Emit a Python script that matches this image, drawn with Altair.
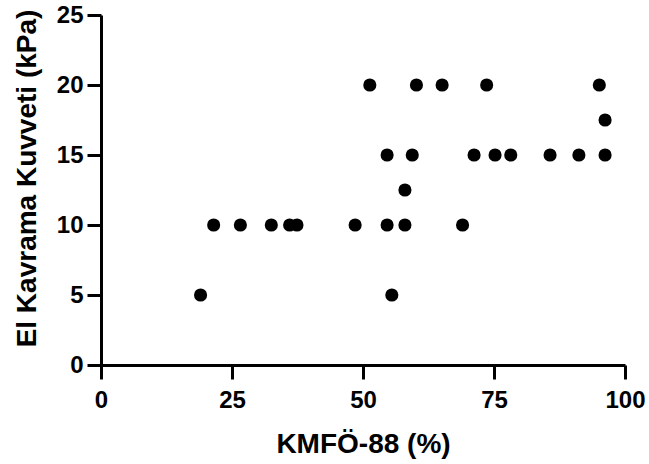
import altair as alt
import pandas as pd

# KMFÖ-88 (%) values and hand-grip strength (kPa)
kmfo = [51.3, 60.2, 65.1, 73.6, 95.1,
        96.2,
        54.6, 59.4, 71.2, 75.2, 78.2, 85.7, 91.2, 96.2,
        58.0,
        21.5, 26.6, 32.5, 36.0, 37.4, 48.5, 54.6, 58.0, 69.0,
        19.0, 55.5]
grip = [20, 20, 20, 20, 20,
        17.5,
        15, 15, 15, 15, 15, 15, 15, 15,
        12.5,
        10, 10, 10, 10, 10, 10, 10, 10, 10,
        5, 5]

x_ticks = [0, 25, 50, 75, 100]
y_ticks = [0, 5, 10, 15, 20, 25]

df = pd.DataFrame({"x": kmfo, "y": grip})

FONT = "Liberation Sans"

chart = alt.Chart(df).mark_circle(size=172, color="black", opacity=1).encode(
    x=alt.X("x:Q",
            scale=alt.Scale(domain=[0, 100], nice=False, zero=False),
            axis=alt.Axis(values=x_ticks, title="KMFÖ-88 (%)", grid=False,
                          labelPadding=9, titleY=87, titleBaseline="alphabetic")),
    y=alt.Y("y:Q",
            scale=alt.Scale(domain=[0, 25], nice=False, zero=False),
            axis=alt.Axis(values=y_ticks, title="El Kavrama Kuvveti (kPa)", grid=False,
                          labelPadding=4, titleX=-74, titleY=163, titleAngle=-90,
                          titleAlign="center", titleBaseline="middle")),
).properties(
    width=524,
    height=350,
    autosize=alt.AutoSizeParams(type="none"),
    padding={"left": 101, "top": 15, "right": 24, "bottom": 99},
).configure_view(
    stroke=None
).configure_axis(
    domainColor="black",
    domainWidth=3,
    tickColor="black",
    tickWidth=3,
    tickSize=14,
    labelFont=FONT,
    labelFontWeight="bold",
    labelFontSize=24,
    labelColor="black",
    titleFont=FONT,
    titleFontWeight="bold",
    titleFontSize=28,
    titleColor="black",
    labelOverlap=False,
    labelFlush=False,
)

chart.save("out.html", embed_options={"renderer": "svg", "actions": False})
